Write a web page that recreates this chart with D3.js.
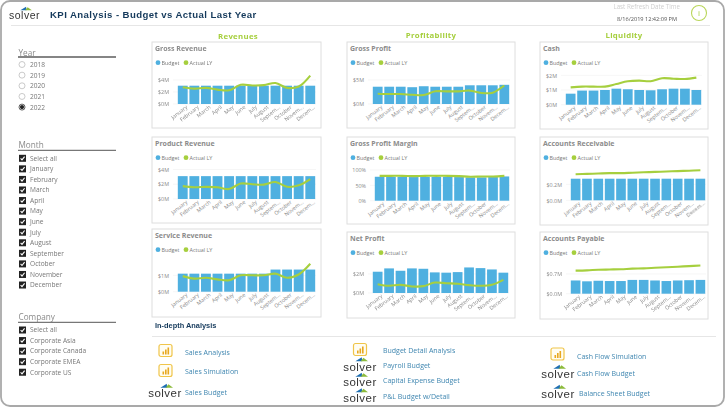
<!DOCTYPE html>
<html>
<head>
    <title>KPI Analysis</title>
    <script src="https://d3js.org/d3.v7.min.js"></script>
    <style>
        html, body { margin: 0; padding: 0; background: white; overflow: hidden; }
        svg { display: block; font-family: "Open Sans", sans-serif; filter: blur(0.25px); }
        .axis path { display: none; }
        .axis line { display: none; }
        .axis text { fill: #8a8a8a; font-size: 5.4px; font-family: "Open Sans", sans-serif; }
    </style>
</head>
<body>
    <svg id="chart" width="726" height="409"></svg>

    <script>
        // chart data
        const monthLabels = ["January", "February", "March", "April", "May", "June", "July", "August", "Septem...", "October", "Novem...", "Decem..."];
        const years = ["2018", "2019", "2020", "2021", "2022"];
        const monthItems = ["Select all", "January", "February", "March", "April", "May", "June", "July", "August", "September", "October", "November", "December"];
        const companyItems = ["Select all", "Corporate Asia", "Corporate Canada", "Corporate EMEA", "Corporate US"];

        const grossRevBudget = [3.05, 3.05, 3.05, 3.05, 3.05, 3.05, 3.05, 3.05, 3.05, 3.05, 3.05, 3.05];
        const grossRevActual = [2.8, 2.57, 2.69, 2.4, 2.29, 3.2, 3.09, 3.14, 3.49, 2.69, 2.91, 4.74];
        const productRevBudget = [3.1, 3.1, 3.1, 3.1, 3.1, 3.1, 3.1, 3.1, 3.1, 3.1, 3.1, 3.1];
        const productRevActual = [1.75, 1.6, 1.65, 1.6, 1.35, 2.1, 2.0, 1.95, 2.3, 1.65, 1.85, 2.7];
        const serviceRevBudget = [1.1, 1.1, 1.1, 1.1, 1.1, 1.1, 1.1, 1.1, 1.35, 1.35, 1.35, 1.35];
        const serviceRevActual = [0.95, 0.8, 0.85, 0.75, 0.7, 1.0, 1.0, 1.0, 1.1, 0.85, 1.05, 1.7];
        const grossProfitBudget = [3.6, 3.6, 3.6, 3.5, 3.7, 3.6, 3.6, 3.6, 3.9, 3.9, 3.9, 4.0];
        const grossProfitActual = [2.14, 2.07, 2.07, 1.93, 1.86, 2.64, 2.64, 2.64, 2.79, 2.29, 2.36, 3.86];
        const marginBudget = [78, 78, 78, 77, 78, 78, 78, 77, 76, 76, 77, 79];
        const marginActual = [81, 81, 81, 80, 81, 81, 81, 80, 78, 79, 79, 81];
        const netProfitBudget = [2.24, 2.59, 2.34, 2.59, 2.55, 2.17, 2.14, 2.2, 2.69, 2.62, 2.48, 2.14];
        const netProfitActual = [0.93, 0.76, 0.86, 0.69, 0.72, 1.1, 1.03, 0.97, 0.83, 0.76, 0.86, 1.38];
        const cashBudget = [0.75, 0.96, 0.96, 1.0, 1.09, 1.05, 1.0, 0.98, 1.05, 1.09, 1.09, 1.0];
        const cashActual = [1.18, 1.23, 1.23, 1.23, 1.41, 1.6, 1.64, 1.6, 1.8, 1.77, 1.75, 1.84];
        const receivableBudget = [0.27, 0.27, 0.27, 0.27, 0.27, 0.27, 0.27, 0.27, 0.27, 0.27, 0.27, 0.27];
        const receivableActual = [0.325, 0.33, 0.335, 0.34, 0.34, 0.345, 0.35, 0.355, 0.36, 0.365, 0.37, 0.375];
        const payableBudget = [0.47, 0.44, 0.46, 0.45, 0.45, 0.49, 0.49, 0.47, 0.45, 0.47, 0.48, 0.49];
        const payableActual = [0.82, 0.83, 0.85, 0.86, 0.87, 0.89, 0.9, 0.92, 0.94, 0.96, 0.98, 1.0];

        const BLUE = "#4fb0e0";
        const GREEN = "#a6cf3e";

        // panel layout: box, plot area and y scale for each small chart
        const panels = [
            { title: "Gross Revenue", budget: grossRevBudget, actual: grossRevActual, box: [152, 42, 321, 128], px: [177, 316], py: [104, 80], max: 4, ticks: [0, 2, 4], fmt: d => "$" + d + "M" },
            { title: "Product Revenue", budget: productRevBudget, actual: productRevActual, box: [152, 137, 321, 223], px: [177, 316], py: [199, 169.5], max: 4, ticks: [0, 2, 4], fmt: d => "$" + d + "M" },
            { title: "Service Revenue", budget: serviceRevBudget, actual: serviceRevActual, box: [152, 229, 321, 317], px: [177, 316], py: [291.7, 275.3], max: 1, ticks: [0, 1], fmt: d => "$" + d + "M" },
            { title: "Gross Profit", budget: grossProfitBudget, actual: grossProfitActual, box: [347, 42, 515, 128], px: [372, 510], py: [104, 80], max: 5, ticks: [0, 5], fmt: d => "$" + d + "M" },
            { title: "Gross Profit Margin", budget: marginBudget, actual: marginActual, box: [347, 137, 515, 224], px: [374, 510], py: [200.7, 170], max: 100, ticks: [0, 50, 100], fmt: d => d + "%" },
            { title: "Net Profit", budget: netProfitBudget, actual: netProfitActual, box: [347, 232, 515, 318], px: [372, 509], py: [293, 274], max: 2, ticks: [0, 2], fmt: d => "$" + d + "M" },
            { title: "Cash", budget: cashBudget, actual: cashActual, box: [540, 42, 708, 129], px: [565, 702], py: [104.7, 75.3], max: 2, ticks: [0, 1, 2], fmt: d => "$" + d + "M" },
            { title: "Accounts Receivable", budget: receivableBudget, actual: receivableActual, box: [540, 137, 708, 225], px: [570, 706], py: [200.3, 184.3], max: 0.2, ticks: [0, 0.2], fmt: d => "$" + d.toFixed(1) + "M" },
            { title: "Accounts Payable", budget: payableBudget, actual: payableActual, box: [540, 232, 708, 319], px: [570, 706], py: [293.7, 274], max: 0.7, ticks: [0, 0.7], fmt: d => "$" + d.toFixed(1) + "M" }
        ];

        const svg = d3.select("svg#chart");

        // outer frame
        svg.append("rect")
            .attr("x", 1).attr("y", 1)
            .attr("width", 723).attr("height", 405)
            .attr("rx", 9)
            .attr("fill", "white")
            .attr("stroke", "#a9a9a9")
            .attr("stroke-width", 1.8);

        function addText(x, y, str, size, color, weight, anchor) {
            return svg.append("text")
                .attr("x", x)
                .attr("y", y)
                .attr("text-anchor", anchor || "start")
                .style("font-size", size + "px")
                .style("font-weight", weight || "normal")
                .style("fill", color)
                .text(str);
        }

        function addRule(x1, x2, y, color, w) {
            svg.append("line")
                .attr("x1", x1).attr("x2", x2)
                .attr("y1", y).attr("y2", y)
                .attr("stroke", color)
                .attr("stroke-width", w);
        }

        // small solver logo, used in the header and the link rows
        function solverLogo(cx, y, size) {
            const g = svg.append("g").attr("transform", "translate(" + cx + "," + y + ")");
            const s = size / 10;
            g.append("path").attr("d", `M${-4 * s},${-8 * s} L${1.5 * s},${-11.5 * s} L${2 * s},${-8 * s} Z`).attr("fill", "#1f6fb2");
            g.append("path").attr("d", `M${0.5 * s},${-8 * s} L${3 * s},${-11 * s} L${7 * s},${-8 * s} Z`).attr("fill", "#8dbb3c");
            g.append("text")
                .attr("text-anchor", "middle")
                .style("font-family", "'Liberation Sans', sans-serif")
                .style("font-size", size + "px")
                .style("letter-spacing", "0.5px")
                .style("fill", "#333")
                .text("solver");
        }

        // yellow report icon
        function reportIcon(x, y) {
            const g = svg.append("g").attr("transform", "translate(" + x + "," + y + ")");
            g.append("rect").attr("width", 13).attr("height", 12).attr("rx", 2)
                .attr("fill", "#fffdf2").attr("stroke", "#f0c54a").attr("stroke-width", 1.2);
            [[3.5, 7, 3], [6, 5, 5], [8.5, 3, 7]].forEach(b => {
                g.append("rect").attr("x", b[0]).attr("y", b[1]).attr("width", 1.6).attr("height", b[2])
                    .attr("fill", "#e8a820");
            });
        }

        // header
        solverLogo(24.5, 18.7, 10.5);
        addText(50, 18, "KPI Analysis - Budget vs Actual Last Year", 9.6, "#14395b", "bold")
            .style("font-family", "'Liberation Sans', sans-serif")
            .style("letter-spacing", "0.42px");
        addRule(11, 710, 25.5, "#e6e6e6", 1);
        addText(680, 9, "Last Refresh Date Time", 6.2, "#cfcfcf", "normal", "end");
        addText(677, 21, "8/16/2019 12:42:09 PM", 5.6, "#555", "normal", "end");
        svg.append("circle").attr("cx", 699).attr("cy", 13).attr("r", 7.5)
            .attr("fill", "white").attr("stroke", "#b9d65a").attr("stroke-width", 1.1);
        addText(699, 16, "i", 8, "#a6cf3e", "normal", "middle");

        // section headings
        [["Revenues", 238, 39], ["Profitability", 431, 38], ["Liquidity", 624, 38]].forEach(h => {
            addText(h[1], h[2], h[0], 7.8, GREEN, "bold", "middle").style("letter-spacing", "0.3px");
        });

        // year slicer
        addText(18.5, 55.5, "Year", 8.2, "#8a8a8a");
        addRule(18, 116, 57, "#858585", 1.8);
        years.forEach((d, i) => {
            const y = 64.5 + i * 10.65;
            svg.append("circle").attr("cx", 22).attr("cy", y).attr("r", 3)
                .attr("fill", "white")
                .attr("stroke", i === 4 ? "#222" : "#b5b5b5")
                .attr("stroke-width", 0.7);
            if (i === 4) svg.append("circle").attr("cx", 22).attr("cy", y).attr("r", 2.1).attr("fill", "#222");
            addText(30, y + 2.4, d, 6.6, "#777");
        });

        function checkList(title, items, titleY, ruleY, firstY) {
            addText(18.5, titleY, title, 8.2, "#8a8a8a");
            addRule(18, 116, ruleY, "#555", 1);
            items.forEach((d, i) => {
                const y = firstY + i * 10.56;
                svg.append("rect").attr("x", 19).attr("y", y - 3.5).attr("width", 7).attr("height", 7)
                    .attr("fill", "#222");
                svg.append("path")
                    .attr("d", `M20.6,${y} L22,${y + 1.6} L24.6,${y - 1.7}`)
                    .attr("fill", "none").attr("stroke", "white").attr("stroke-width", 1.1);
                addText(30, y + 2.3, d, 6.6, "#777");
            });
        }
        checkList("Month", monthItems, 148, 150.3, 158.3);
        checkList("Company", companyItems, 320, 322.3, 330);

        // small multiples
        panels.forEach(p => {
            const g = svg.append("g");
            const b = p.box;

            g.append("rect")
                .attr("x", b[0]).attr("y", b[1])
                .attr("width", b[2] - b[0]).attr("height", b[3] - b[1])
                .attr("fill", "white")
                .attr("stroke", "#dedede")
                .attr("stroke-width", 1);

            g.append("text")
                .attr("x", b[0] + 3).attr("y", b[1] + 8.5)
                .style("font-size", "7px").style("font-weight", "bold").style("fill", "#8c8c8c")
                .text(p.title);

            // legend
            const ly = b[1] + 20.7;
            g.append("circle").attr("cx", b[0] + 6).attr("cy", ly).attr("r", 2.4).attr("fill", BLUE);
            g.append("text").attr("x", b[0] + 9.5).attr("y", ly + 1.9)
                .style("font-size", "5.4px").style("fill", "#777").text("Budget");
            g.append("circle").attr("cx", b[0] + 34).attr("cy", ly).attr("r", 2.4).attr("fill", GREEN);
            g.append("text").attr("x", b[0] + 37.5).attr("y", ly + 1.9)
                .style("font-size", "5.4px").style("fill", "#777").text("Actual LY");

            const x = d3.scaleBand()
                .domain(monthLabels)
                .range(p.px)
                .paddingInner(0.15)
                .paddingOuter(0.07);
            const y = d3.scaleLinear()
                .domain([0, p.max])
                .range(p.py);

            // light gridlines
            g.selectAll(".grid")
                .data(p.ticks)
                .join("line")
                .attr("class", "grid")
                .attr("x1", p.px[0] - 4).attr("x2", p.px[1])
                .attr("y1", d => y(d)).attr("y2", d => y(d))
                .attr("stroke", "#f0f0f0")
                .attr("stroke-width", 0.6);

            g.selectAll(".bar")
                .data(p.budget)
                .join("rect")
                .attr("class", "bar")
                .attr("x", (d, i) => x(monthLabels[i]))
                .attr("y", d => y(d))
                .attr("width", x.bandwidth())
                .attr("height", d => y(0) - y(d))
                .attr("fill", BLUE);

            const line = d3.line()
                .x((d, i) => x(monthLabels[i]) + x.bandwidth() / 2)
                .y(d => y(d))
                .curve(d3.curveCatmullRom);

            g.append("path")
                .datum(p.actual)
                .attr("d", line)
                .attr("fill", "none")
                .attr("stroke", GREEN)
                .attr("stroke-width", 2.1);

            g.append("g")
                .attr("class", "axis")
                .attr("transform", "translate(" + p.px[0] + ",0)")
                .call(d3.axisLeft(y).tickValues(p.ticks).tickFormat(p.fmt).tickSize(0).tickPadding(8));

            g.append("g")
                .attr("class", "axis")
                .attr("transform", "translate(0," + p.py[0] + ")")
                .call(d3.axisBottom(x).tickSize(0).tickPadding(3))
                .selectAll("text")
                .attr("text-anchor", "end")
                .attr("dx", "0.3em")
                .attr("dy", "0.6em")
                .attr("transform", "rotate(-38)");
        });

        // in-depth analysis links
        addText(155, 328, "In-depth Analysis", 7.4, "#14395b", "bold")
            .style("font-family", "'Liberation Sans', sans-serif");
        addRule(152, 716, 336.5, "#e6e6e6", 1);

        const LINK = "#3f86b0";
        const linkRows = [
            { text: "Sales  Analysis", x: 185, y: 355, icon: "report", ix: 159, iy: 344.5 },
            { text: "Sales Simulation", x: 185, y: 374, icon: "report", ix: 159, iy: 364.5 },
            { text: "Sales Budget", x: 185, y: 395, icon: "solver", ix: 165, iy: 397 },
            { text: "Budget Detail Analysis", x: 383, y: 353, icon: "report", ix: 353.5, iy: 343.5 },
            { text: "Payroll Budget", x: 383, y: 367.5, icon: "solver", ix: 360, iy: 370.5 },
            { text: "Capital Expense Budget", x: 383, y: 383, icon: "solver", ix: 360, iy: 386 },
            { text: "P&L Budget w/Detail", x: 383, y: 399, icon: "solver", ix: 360, iy: 401.5 },
            { text: "Cash Flow Simulation", x: 577, y: 359, icon: "report", ix: 551, iy: 348 },
            { text: "Cash Flow Budget", x: 577, y: 375.5, icon: "solver", ix: 558, iy: 378 },
            { text: "Balance Sheet Budget", x: 579, y: 395.5, icon: "solver", ix: 558, iy: 398 }
        ];
        linkRows.forEach(r => {
            addText(r.x, r.y, r.text, 7, LINK);
            if (r.icon === "report") reportIcon(r.ix, r.iy);
            else solverLogo(r.ix, r.iy, 11.5);
        });
    </script>

</body>
</html>
